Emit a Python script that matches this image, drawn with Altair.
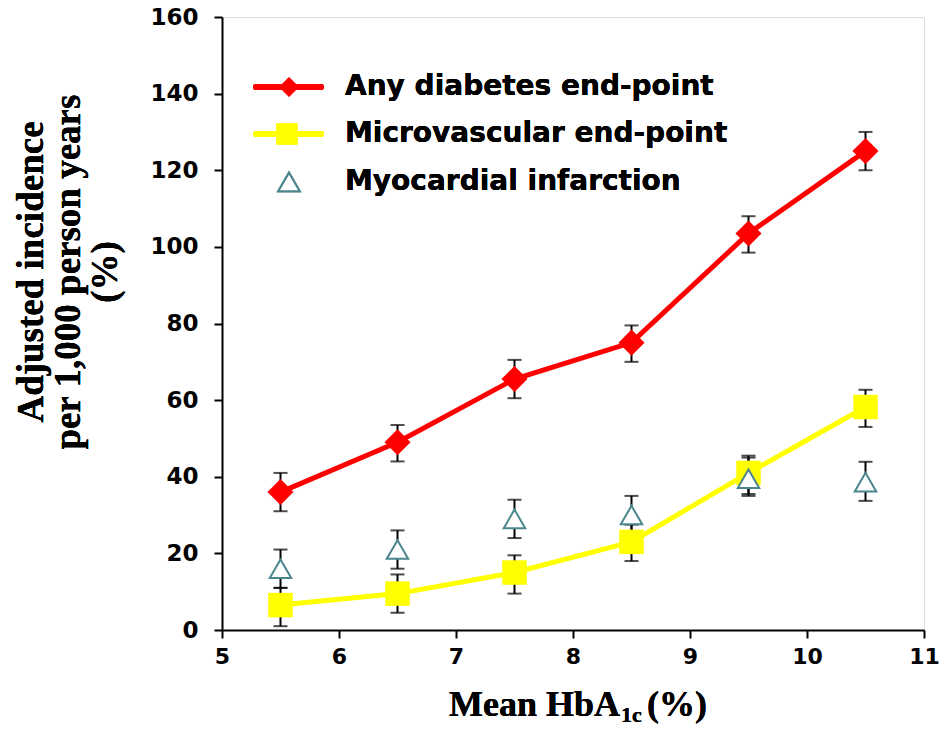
import altair as alt
import pandas as pd

# ---- data ----
hba1c = [5.5, 6.5, 7.5, 8.5, 9.5, 10.5]

any_mean = [36, 49, 65.5, 75, 103.5, 125]
any_lo = [31, 44, 60.5, 70, 98.5, 120]
any_hi = [41, 53.5, 70.5, 79.5, 108, 130]

micro_mean = [6.5, 9.5, 15, 23, 41, 58.2]
micro_lo = [1, 4.5, 9.5, 18, 35.5, 53]
micro_hi = [11, 14.5, 19.5, 27.5, 45.5, 62.7]

mi_mean = [16, 21, 29, 30, 39.5, 38.6]
mi_lo = [11, 16, 24, 25, 35, 33.7]
mi_hi = [21, 26, 34, 35, 45, 43.9]

x_ticks = [5, 6, 7, 8, 9, 10, 11]
y_ticks = [0, 20, 40, 60, 80, 100, 120, 140, 160]

series_names = ["Any diabetes end-point", "Microvascular end-point", "Myocardial infarction"]

def frame(name, m, lo, hi):
    return pd.DataFrame({"x": hba1c, "y": m, "lo": lo, "hi": hi, "series": name})

df_any = frame(series_names[0], any_mean, any_lo, any_hi)
df_mic = frame(series_names[1], micro_mean, micro_lo, micro_hi)
df_mi = frame(series_names[2], mi_mean, mi_lo, mi_hi)
df_all = pd.concat([df_any, df_mic, df_mi], ignore_index=True)

W, H = 702, 613
LAB_FONT = "DejaVu Sans"
SERIF = "Liberation Serif"

xs = alt.Scale(domain=[5, 11], nice=False, zero=False)
ys = alt.Scale(domain=[0, 160], nice=False)

X = alt.X("x:Q", scale=xs, axis=alt.Axis(
    values=x_ticks, format="d", title=None, grid=False, domainColor="black", domainWidth=2,
    tickColor="black", tickWidth=2, tickSize=8, labelFont=LAB_FONT, labelFontWeight="bold",
    labelFontSize=22, labelColor="black", labelPadding=8, labelFlush=False))
Y = alt.Y("y:Q", scale=ys, axis=alt.Axis(
    values=y_ticks, format="d", title=None, grid=False, domainColor="black", domainWidth=2,
    tickColor="black", tickWidth=2, tickSize=8, labelFont=LAB_FONT, labelFontWeight="bold",
    labelFontSize=23, labelColor="black", labelPadding=16))

base = alt.Chart(df_all)

err = base.mark_rule(color="black", strokeWidth=2).encode(
    x=alt.X("x:Q", scale=xs), y=alt.Y("lo:Q", scale=ys), y2="hi:Q")
cap_lo = base.mark_tick(orient="horizontal", size=14, thickness=2, color="black").encode(
    x=alt.X("x:Q", scale=xs), y=alt.Y("lo:Q", scale=ys))
cap_hi = base.mark_tick(orient="horizontal", size=14, thickness=2, color="black").encode(
    x=alt.X("x:Q", scale=xs), y=alt.Y("hi:Q", scale=ys))

line_any = alt.Chart(df_any).mark_line(color="#FF0000", strokeWidth=5).encode(x=X, y=Y)
line_mic = alt.Chart(df_mic).mark_line(color="#FFFF00", strokeWidth=5).encode(x=X, y=Y)

pt_mic = alt.Chart(df_mic).mark_point(shape="square", filled=True, color="#FFFF00",
                                      size=600, opacity=1).encode(x=X, y=Y)
pt_mi = alt.Chart(df_mi).mark_point(shape="triangle-up", filled=True, fill="white",
                                    stroke="#4a868c", strokeWidth=2, size=460,
                                    opacity=1).encode(x=X, y=Y)
pt_any = alt.Chart(df_any).mark_point(shape="diamond", filled=True, color="#FF0000",
                                      size=680, opacity=1).encode(x=X, y=Y)

# ---- legend (drawn manually) ----
leg_df = pd.DataFrame({"series": series_names})
def leg_rule(color, y):
    return alt.Chart(leg_df).mark_rule(color=color, strokeWidth=6, strokeCap="round").encode(
        x=alt.value(34), x2=alt.value(99), y=alt.value(y))

leg_red = leg_rule("#FF0000", 70)
leg_yel = leg_rule("#FFFF00", 117)
leg_dia = alt.Chart(leg_df).mark_point(shape="diamond", filled=True, color="#FF0000",
                                       size=380, opacity=1).encode(x=alt.value(67), y=alt.value(70))
leg_sq = alt.Chart(leg_df).mark_point(shape="square", filled=True, color="#FFFF00",
                                      size=440, opacity=1).encode(x=alt.value(65), y=alt.value(117))
leg_tri = alt.Chart(leg_df).mark_point(shape="triangle-up", filled=True, fill="white",
                                       stroke="#4a868c", strokeWidth=2, size=460,
                                       opacity=1).encode(x=alt.value(67), y=alt.value(165))

def leg_text(t, y):
    return alt.Chart(leg_df).mark_text(text=t, font=LAB_FONT, fontWeight="bold", fontSize=28,
                                       align="left", baseline="middle", color="black").encode(
        x=alt.value(123), y=alt.value(y))

lt1 = leg_text(series_names[0], 70)
lt2 = leg_text(series_names[1], 117)
lt3 = leg_text(series_names[2], 165)

# ---- axis titles ----
ytitle = alt.Chart(leg_df).mark_text(
    text=["Adjusted incidence", "per 1,000 person years", "(%)"], font=SERIF,
    fontWeight="bold", fontSize=37, lineHeight=37, angle=270, align="center",
    baseline="middle", color="black").encode(x=alt.value(-190), y=alt.value(255))

xt1 = alt.Chart(leg_df).mark_text(text="Mean HbA", font=SERIF, fontWeight="bold", fontSize=36,
                                  align="right", baseline="alphabetic", color="black").encode(
    x=alt.value(398), y=alt.value(699))
xt2 = alt.Chart(leg_df).mark_text(text="1c", font=SERIF, fontWeight="bold", fontSize=22,
                                  align="left", baseline="alphabetic", color="black").encode(
    x=alt.value(399), y=alt.value(705))
xt3 = alt.Chart(leg_df).mark_text(text="(%)", font=SERIF, fontWeight="bold", fontSize=36,
                                  align="left", baseline="alphabetic", color="black").encode(
    x=alt.value(425), y=alt.value(699))

chart = alt.layer(
    err, cap_lo, cap_hi, line_any, line_mic, pt_mic, pt_mi, pt_any,
    leg_red, leg_yel, leg_dia, leg_sq, leg_tri, lt1, lt2, lt3,
    ytitle, xt1, xt2, xt3,
).encode().properties(
    width=W, height=H,
    autosize=alt.AutoSizeParams(type="none"),
    padding={"left": 222, "top": 17, "right": 15, "bottom": 99},
).configure_view(stroke=None).configure(background="white")

chart.save("out.html", embed_options={"renderer": "svg", "actions": False})
